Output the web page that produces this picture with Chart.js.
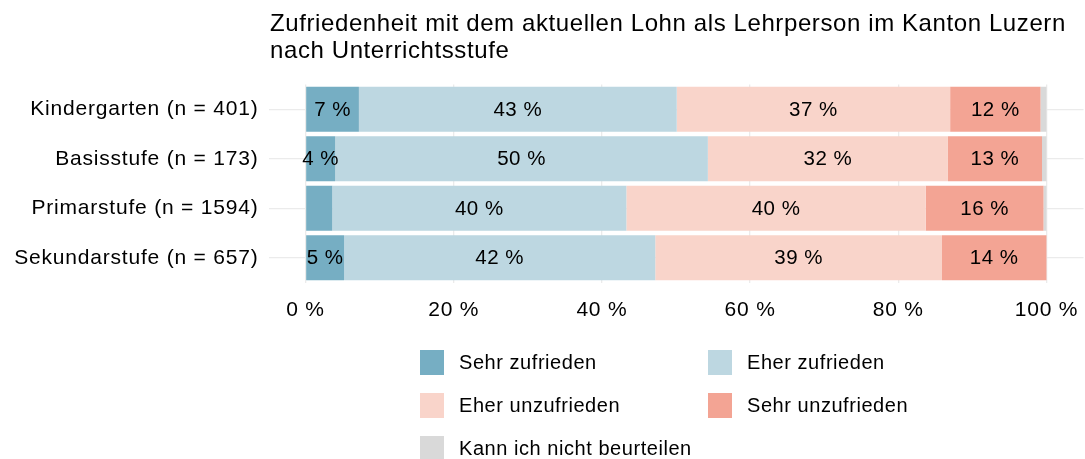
<!DOCTYPE html>
<html>
<head>
<meta charset="utf-8">
<script src="https://cdn.jsdelivr.net/npm/chart.js@4"></script>
<style>
  html, body { margin: 0; padding: 0; background: #fff; }
  #wrap { width: 1085px; height: 459px; }
</style>
</head>
<body>
<div id="wrap"><canvas id="chart"></canvas></div>
<script>
// data (shares in %)
const categories = ["Kindergarten (n = 401)", "Basisstufe (n = 173)", "Primarstufe (n = 1594)", "Sekundarstufe (n = 657)"];
const seriesNames = ["Sehr zufrieden", "Eher zufrieden", "Eher unzufrieden", "Sehr unzufrieden", "Kann ich nicht beurteilen"];
const sehrZufrieden = [7.2, 4.0, 3.6, 5.2];
const eherZufrieden = [42.9, 50.3, 39.7, 42.0];
const eherUnzufrieden = [36.9, 32.4, 40.4, 38.7];
const sehrUnzufrieden = [12.2, 12.7, 15.9, 14.1];
const kannNicht = [0.8, 0.6, 0.4, 0.0];
const xTicks = [0, 20, 40, 60, 80, 100];
const titleLines = ["Zufriedenheit mit dem aktuellen Lohn als Lehrperson im Kanton Luzern", "nach Unterrichtsstufe"];

const colors = ["#76aec3", "#bdd7e1", "#f9d4ca", "#f3a494", "#d9d9d9"];
const FONT = "'Liberation Sans', Arial, sans-serif";
const seriesData = [sehrZufrieden, eherZufrieden, eherUnzufrieden, sehrUnzufrieden, kannNicht];

// the original text runs a bit wider than Liberation Sans, track it out a little
const spacing = {
  id: "spacing",
  beforeDraw(chart) { chart.ctx.letterSpacing = "0.8px"; }
};

// percent labels inside the segments
const segmentLabels = {
  id: "segmentLabels",
  afterDatasetsDraw(chart) {
    const ctx = chart.ctx;
    ctx.save();
    ctx.font = "20.5px " + FONT;
    ctx.letterSpacing = "0.5px";
    ctx.fillStyle = "#000";
    ctx.textAlign = "center";
    ctx.textBaseline = "middle";
    chart.data.datasets.forEach((ds, i) => {
      if (i === 4) return;
      chart.getDatasetMeta(i).data.forEach((bar, j) => {
        const v = ds.data[j];
        if (v < 4) return;
        ctx.fillText(Math.round(v) + " %", (bar.x + bar.base) / 2, bar.y + 1);
      });
    });
    ctx.restore();
  }
};

// title and two-column legend, laid out like the ggplot original
const titleAndLegend = {
  id: "titleAndLegend",
  afterDraw(chart) {
    const ctx = chart.ctx;
    ctx.save();
    ctx.fillStyle = "#000";
    ctx.font = "24px " + FONT;
    ctx.letterSpacing = "0.6px";
    ctx.textAlign = "left";
    ctx.textBaseline = "alphabetic";
    titleLines.forEach((t, i) => ctx.fillText(t, 270, 31 + i * 27));

    ctx.font = "20px " + FONT;
    ctx.letterSpacing = "0.55px";
    ctx.textBaseline = "middle";
    chart.data.datasets.forEach((ds, i) => {
      const col = i % 2, row = Math.floor(i / 2);
      const x = 420 + col * 288, y = 350 + row * 43;
      ctx.fillStyle = ds.backgroundColor;
      ctx.fillRect(x, y, 24, 25);
      ctx.fillStyle = "#000";
      ctx.fillText(ds.label, x + 39, y + 13);
    });
    ctx.restore();
  }
};

new Chart(document.getElementById("chart"), {
  type: "bar",
  data: {
    labels: categories,
    datasets: seriesNames.map((name, i) => ({
      label: name,
      data: seriesData[i],
      backgroundColor: colors[i],
      borderWidth: 0,
      barPercentage: 0.91,
      categoryPercentage: 1.0,
    })),
  },
  options: {
    indexAxis: "y",
    responsive: true,
    maintainAspectRatio: false,
    animation: false,
    layout: { padding: { top: 84.5, right: 1.5, left: 0, bottom: 0 } },
    scales: {
      x: {
        stacked: true,
        min: -5,
        max: 105,
        afterBuildTicks: (scale) => { scale.ticks = xTicks.map((v) => ({ value: v })); },
        afterFit: (scale) => {
          scale.height = 176.5;
          scale.paddingLeft = 0;
          scale.paddingRight = 0;
        },
        border: { display: false },
        grid: { color: "#ebebeb", lineWidth: 1.3, drawTicks: false },
        ticks: {
          padding: 15,
          color: "#000",
          font: { size: 21, family: FONT },
          callback: (v) => v + " %",
        },
      },
      y: {
        stacked: true,
        afterFit: (scale) => { scale.width = 268.5; },
        border: { display: false },
        grid: { color: "#ebebeb", lineWidth: 1.3, drawTicks: false, offset: false },
        ticks: {
          padding: 10,
          color: "#000",
          font: { size: 21, family: FONT },
        },
      },
    },
    plugins: {
      legend: { display: false },
      title: { display: false },
      tooltip: { enabled: false },
    },
  },
  plugins: [spacing, segmentLabels, titleAndLegend],
});
</script>
</body>
</html>
